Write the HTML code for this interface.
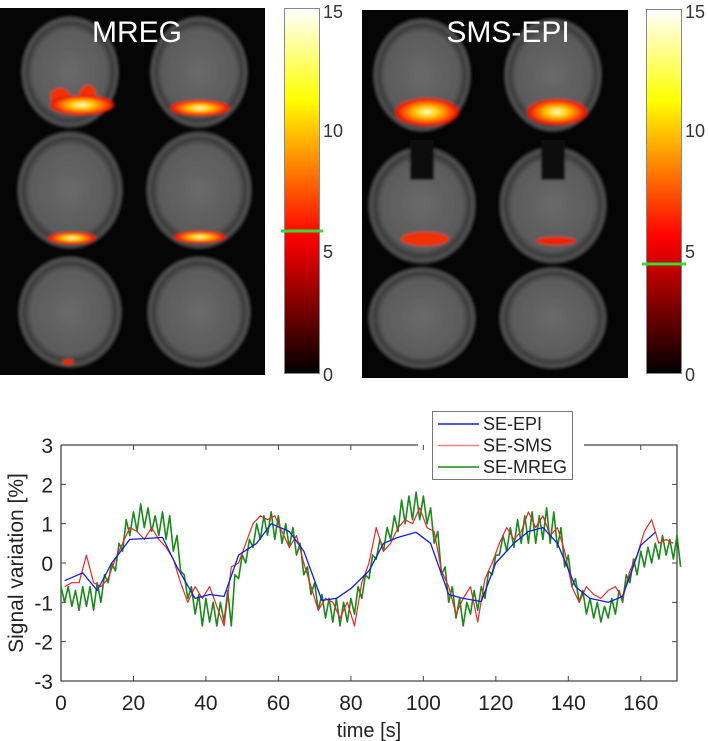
<!DOCTYPE html>
<html><head><meta charset="utf-8"><style>
body{margin:0;background:#fff;width:708px;height:741px;overflow:hidden;font-family:"Liberation Sans",Arial,sans-serif}
svg{position:absolute;left:0;top:0}
</style></head><body>
<svg width="708" height="741" viewBox="0 0 708 741">
<defs>
<radialGradient id="brain" cx="50%" cy="50%" r="50%">
<stop offset="0" stop-color="#6a6a6a"/><stop offset="0.75" stop-color="#5a5a5a"/><stop offset="0.86" stop-color="#3a3a3a"/><stop offset="0.93" stop-color="#555"/><stop offset="1" stop-color="#0a0a0a"/>
</radialGradient>
<radialGradient id="act" cx="50%" cy="50%" r="50%">
<stop offset="0" stop-color="#fffbe0"/><stop offset="0.35" stop-color="#ffd000"/><stop offset="0.7" stop-color="#ff6000"/><stop offset="1" stop-color="#e00000"/>
</radialGradient>
<linearGradient id="hot" x1="0" y1="1" x2="0" y2="0">
<stop offset="0" stop-color="#000"/><stop offset="0.375" stop-color="#ff0000"/><stop offset="0.75" stop-color="#ffff00"/><stop offset="1" stop-color="#fff"/>
</linearGradient>
<filter id="bl"><feGaussianBlur stdDeviation="1.2"/></filter>
</defs>

<g>
<rect x="0" y="8" width="265" height="367" fill="#050505"/>
<g filter="url(#bl)">
<ellipse cx="70" cy="72" rx="50" ry="57" fill="url(#brain)"/>
<ellipse cx="199" cy="72" rx="50" ry="57" fill="url(#brain)"/>
<ellipse cx="70" cy="190" rx="54" ry="60" fill="url(#brain)"/>
<ellipse cx="199" cy="190" rx="54" ry="60" fill="url(#brain)"/>
<ellipse cx="70" cy="312" rx="53" ry="57" fill="url(#brain)"/>
<ellipse cx="199" cy="312" rx="53" ry="57" fill="url(#brain)"/>
<ellipse cx="60" cy="96" rx="10" ry="8" fill="#f03000"/>
<ellipse cx="88" cy="94" rx="8" ry="9" fill="#f03000"/>
<ellipse cx="82" cy="105" rx="32" ry="10" fill="url(#act)"/>
<ellipse cx="200" cy="108" rx="30" ry="8" fill="url(#act)"/>
<ellipse cx="72" cy="238" rx="24" ry="6" fill="url(#act)"/>
<ellipse cx="200" cy="237" rx="26" ry="6" fill="url(#act)"/>
<ellipse cx="68" cy="362" rx="6" ry="3" fill="#e03000"/>
</g>
<text x="137" y="42" font-size="30" fill="#fff" text-anchor="middle">MREG</text>
</g>
<g>
<rect x="284.5" y="8.5" width="35" height="365" fill="url(#hot)" stroke="#888"/>
<line x1="281" y1="231" x2="323" y2="231" stroke="#33dd33" stroke-width="3"/>
<g font-size="18" fill="#333"><text x="323" y="18">15</text><text x="323" y="137">10</text><text x="323" y="258">5</text><text x="323" y="381">0</text></g>
</g>

<g>
<rect x="362" y="10" width="266" height="368" fill="#050505"/>
<g filter="url(#bl)">
<ellipse cx="422" cy="75" rx="50" ry="58" fill="url(#brain)"/>
<ellipse cx="553" cy="75" rx="50" ry="58" fill="url(#brain)"/>
<ellipse cx="422" cy="205" rx="55" ry="60" fill="url(#brain)"/>
<ellipse cx="553" cy="205" rx="55" ry="60" fill="url(#brain)"/>
<ellipse cx="422" cy="318" rx="55" ry="52" fill="url(#brain)"/>
<ellipse cx="553" cy="318" rx="55" ry="52" fill="url(#brain)"/>
<rect x="410" y="140" width="24" height="40" fill="#111"/>
<rect x="541" y="140" width="24" height="40" fill="#111"/>
<ellipse cx="427" cy="112" rx="32" ry="14" fill="url(#act)"/>
<ellipse cx="557" cy="112" rx="30" ry="13" fill="url(#act)"/>
<ellipse cx="425" cy="239" rx="24" ry="7" fill="#f03000"/>
<ellipse cx="556" cy="241" rx="20" ry="4" fill="#f02000"/>
</g>
<text x="508" y="42" font-size="30" fill="#fff" text-anchor="middle">SMS-EPI</text>
</g>
<g>
<rect x="646.5" y="9.5" width="35" height="364" fill="url(#hot)" stroke="#888"/>
<line x1="642" y1="264" x2="686" y2="264" stroke="#33dd33" stroke-width="3"/>
<g font-size="18" fill="#333"><text x="685" y="18">15</text><text x="685" y="137">10</text><text x="685" y="258">5</text><text x="685" y="381">0</text></g>
</g>

<g id="chart"></g>
</svg>
<script>
const xTicks=[0,20,40,60,80,100,120,140,160];
const yTicks=[-3,-2,-1,0,1,2,3];
const epiT=[1,6,10,14,19,23,28,32,37,41,45,49,54,58,63,67,72,76,80,85,89,93,98,102,107,111,116,120,125,129,133,137,142,146,151,155,160,164];
const epiV=[-0.45,-0.25,-0.7,0.0,0.6,0.62,0.65,-0.1,-0.9,-0.8,-0.85,0.2,0.5,1.0,0.8,0.3,-0.95,-0.9,-0.65,-0.2,0.5,0.65,0.78,0.5,-0.8,-0.9,-0.98,0.0,0.5,0.8,0.9,0.5,-0.6,-0.9,-1.0,-0.85,0.45,0.78];
const smsStart=1, smsStep=2;
const smsV=[-0.6,-0.5,-0.5,0.2,-0.5,-0.6,-0.4,0.1,0.5,0.9,0.8,0.6,0.9,0.6,0.4,0.1,-0.5,-1.0,-0.6,-0.9,-0.6,-1.1,-1.6,-0.1,0.0,0.5,1.0,1.2,1.1,1.2,0.8,0.4,0.7,0.0,-0.6,-1.2,-0.9,-1.0,-1.4,-1.0,-1.6,-0.5,0.0,0.9,0.3,0.5,0.9,1.1,1.0,1.4,0.9,0.8,-0.2,-0.6,-1.3,-0.9,-0.6,-1.5,-0.4,0.0,0.5,0.9,0.6,0.8,1.3,0.9,1.2,0.7,0.9,0.3,-0.6,-1.0,-0.6,-0.8,-0.9,-0.7,-0.6,-0.9,-0.2,0.2,0.8,1.1,0.5,0.6,0.5];
const mregStart=0, mregStep=1;
const mregV=[-0.6,-1.0,-0.6,-1.1,-0.7,-1.2,-0.6,-1.1,-0.6,-1.2,-0.5,
-1.0,-0.3,-0.5,0.0,-0.2,0.5,0.3,1.1,0.7,1.3,
0.8,1.5,0.9,1.4,0.8,1.2,0.7,1.3,0.6,1.2,
0.3,0.7,-0.2,-0.3,-0.9,-0.6,-1.3,-0.8,-1.6,-0.9,
-1.5,-1.0,-1.6,-1.0,-1.5,-0.7,-1.6,-0.3,-0.4,0.2,
0.0,0.6,0.4,1.0,0.6,1.2,0.7,1.3,0.6,1.2,
0.5,1.0,0.4,0.9,0.2,0.5,-0.3,-0.1,-0.8,-0.5,
-1.2,-0.8,-1.4,-0.9,-1.5,-0.9,-1.6,-1.0,-1.5,-0.9,
-1.3,-0.6,-0.9,-0.3,-0.4,0.2,0.1,0.6,0.3,0.9,
0.6,1.2,0.8,1.6,1.0,1.7,1.1,1.8,1.1,1.7,
1.0,1.4,0.5,0.8,-0.3,-0.1,-1.0,-0.6,-1.4,-0.9,
-1.6,-1.0,-1.3,-0.7,-1.2,-0.6,-0.9,-0.2,-0.3,0.2,
0.2,0.7,0.3,0.9,0.4,1.1,0.5,1.2,0.5,1.3,
0.5,1.2,0.6,1.4,0.5,1.3,0.4,0.9,-0.1,0.2,
-0.6,-0.4,-1.0,-0.7,-1.3,-0.9,-1.4,-1.0,-1.5,-1.1,
-1.4,-0.9,-1.3,-0.7,-1.0,-0.3,-0.5,0.1,-0.3,0.3,
-0.1,0.4,0.0,0.5,0.1,0.7,0.2,0.6,0.1,0.7,-0.1];
const legendLabels=["SE-EPI","SE-SMS","SE-MREG"];

const L=61,R=677,T=445,B=681;
const X=t=>L+(t-0)/(170-0)*(R-L);
const Y=v=>B-(v+3)/6*(B-T);
const NS="http://www.w3.org/2000/svg";
const g=document.getElementById('chart');
function mk(tag,attrs,parent){const e=document.createElementNS(NS,tag);for(const k in attrs)e.setAttribute(k,attrs[k]);(parent||g).appendChild(e);return e;}
function txt(s,attrs){const e=mk('text',attrs);e.textContent=s;return e;}

let ax=mk('path',{d:`M${L},${T}V${B}H${R}V${T}H584M418,${T}H${L}`,fill:'none',stroke:'#444','stroke-width':1.3});


xTicks.forEach(t=>{
  let tk=mk('path',{d:`M${X(t)},${B}v-5M${X(t)},${T}v5`,stroke:'#444'});
  
  
  let lb=txt(String(t),{x:X(t),y:B+29,'font-size':21,'text-anchor':'middle',fill:'#222'});
  
  
});
yTicks.forEach(v=>{
  let tk=mk('path',{d:`M${L},${Y(v)}h5M${R},${Y(v)}h-5`,stroke:'#444'});
  
  
  let lb=txt(String(v),{x:L-8,y:Y(v)+8,'font-size':21,'text-anchor':'end',fill:'#222'});
  
  
});
let xt=txt('time [s]',{x:(L+R)/2,y:737,'font-size':20,'text-anchor':'middle',fill:'#222'});


let yt=txt('Signal variation [%]',{x:0,y:0,'font-size':21,'text-anchor':'middle',fill:'#222',transform:`translate(23,${(T+B)/2}) rotate(-90)`});



function line(ts,vs,color,w,name){
  const d=vs.map((v,i)=>(i?'L':'M')+X(ts(i)).toFixed(1)+','+Y(v).toFixed(1)).join('');
  const p=mk('path',{d,fill:'none',stroke:color,'stroke-width':w,'stroke-linejoin':'round'});
  
  
}
line(i=>mregStart+i*mregStep,mregV,'#1a8a1a',1.6,'series-se-mreg');
line(i=>smsStart+i*smsStep,smsV,'#e8282c',1.2,'series-se-sms');
line(i=>epiT[i],epiV,'#1020d8',1.3,'series-se-epi');

const lg=mk('g',{});


mk('rect',{x:432.5,y:411.5,width:140,height:68,fill:'#fff',stroke:'#777'},lg);
const lc=['#1020d8','#f08080','#1a8a1a'];
legendLabels.forEach((s,i)=>{
  const y=424+i*21.5;
  const e=mk('g',{},lg);
  
  
  mk('line',{x1:438,x2:479,y1:y,y2:y,stroke:lc[i],'stroke-width':1.6},e);
  const t=mk('text',{x:483,y:y+6,'font-size':18,fill:'#222'},e);t.textContent=s;
});
</script>
</body></html>
